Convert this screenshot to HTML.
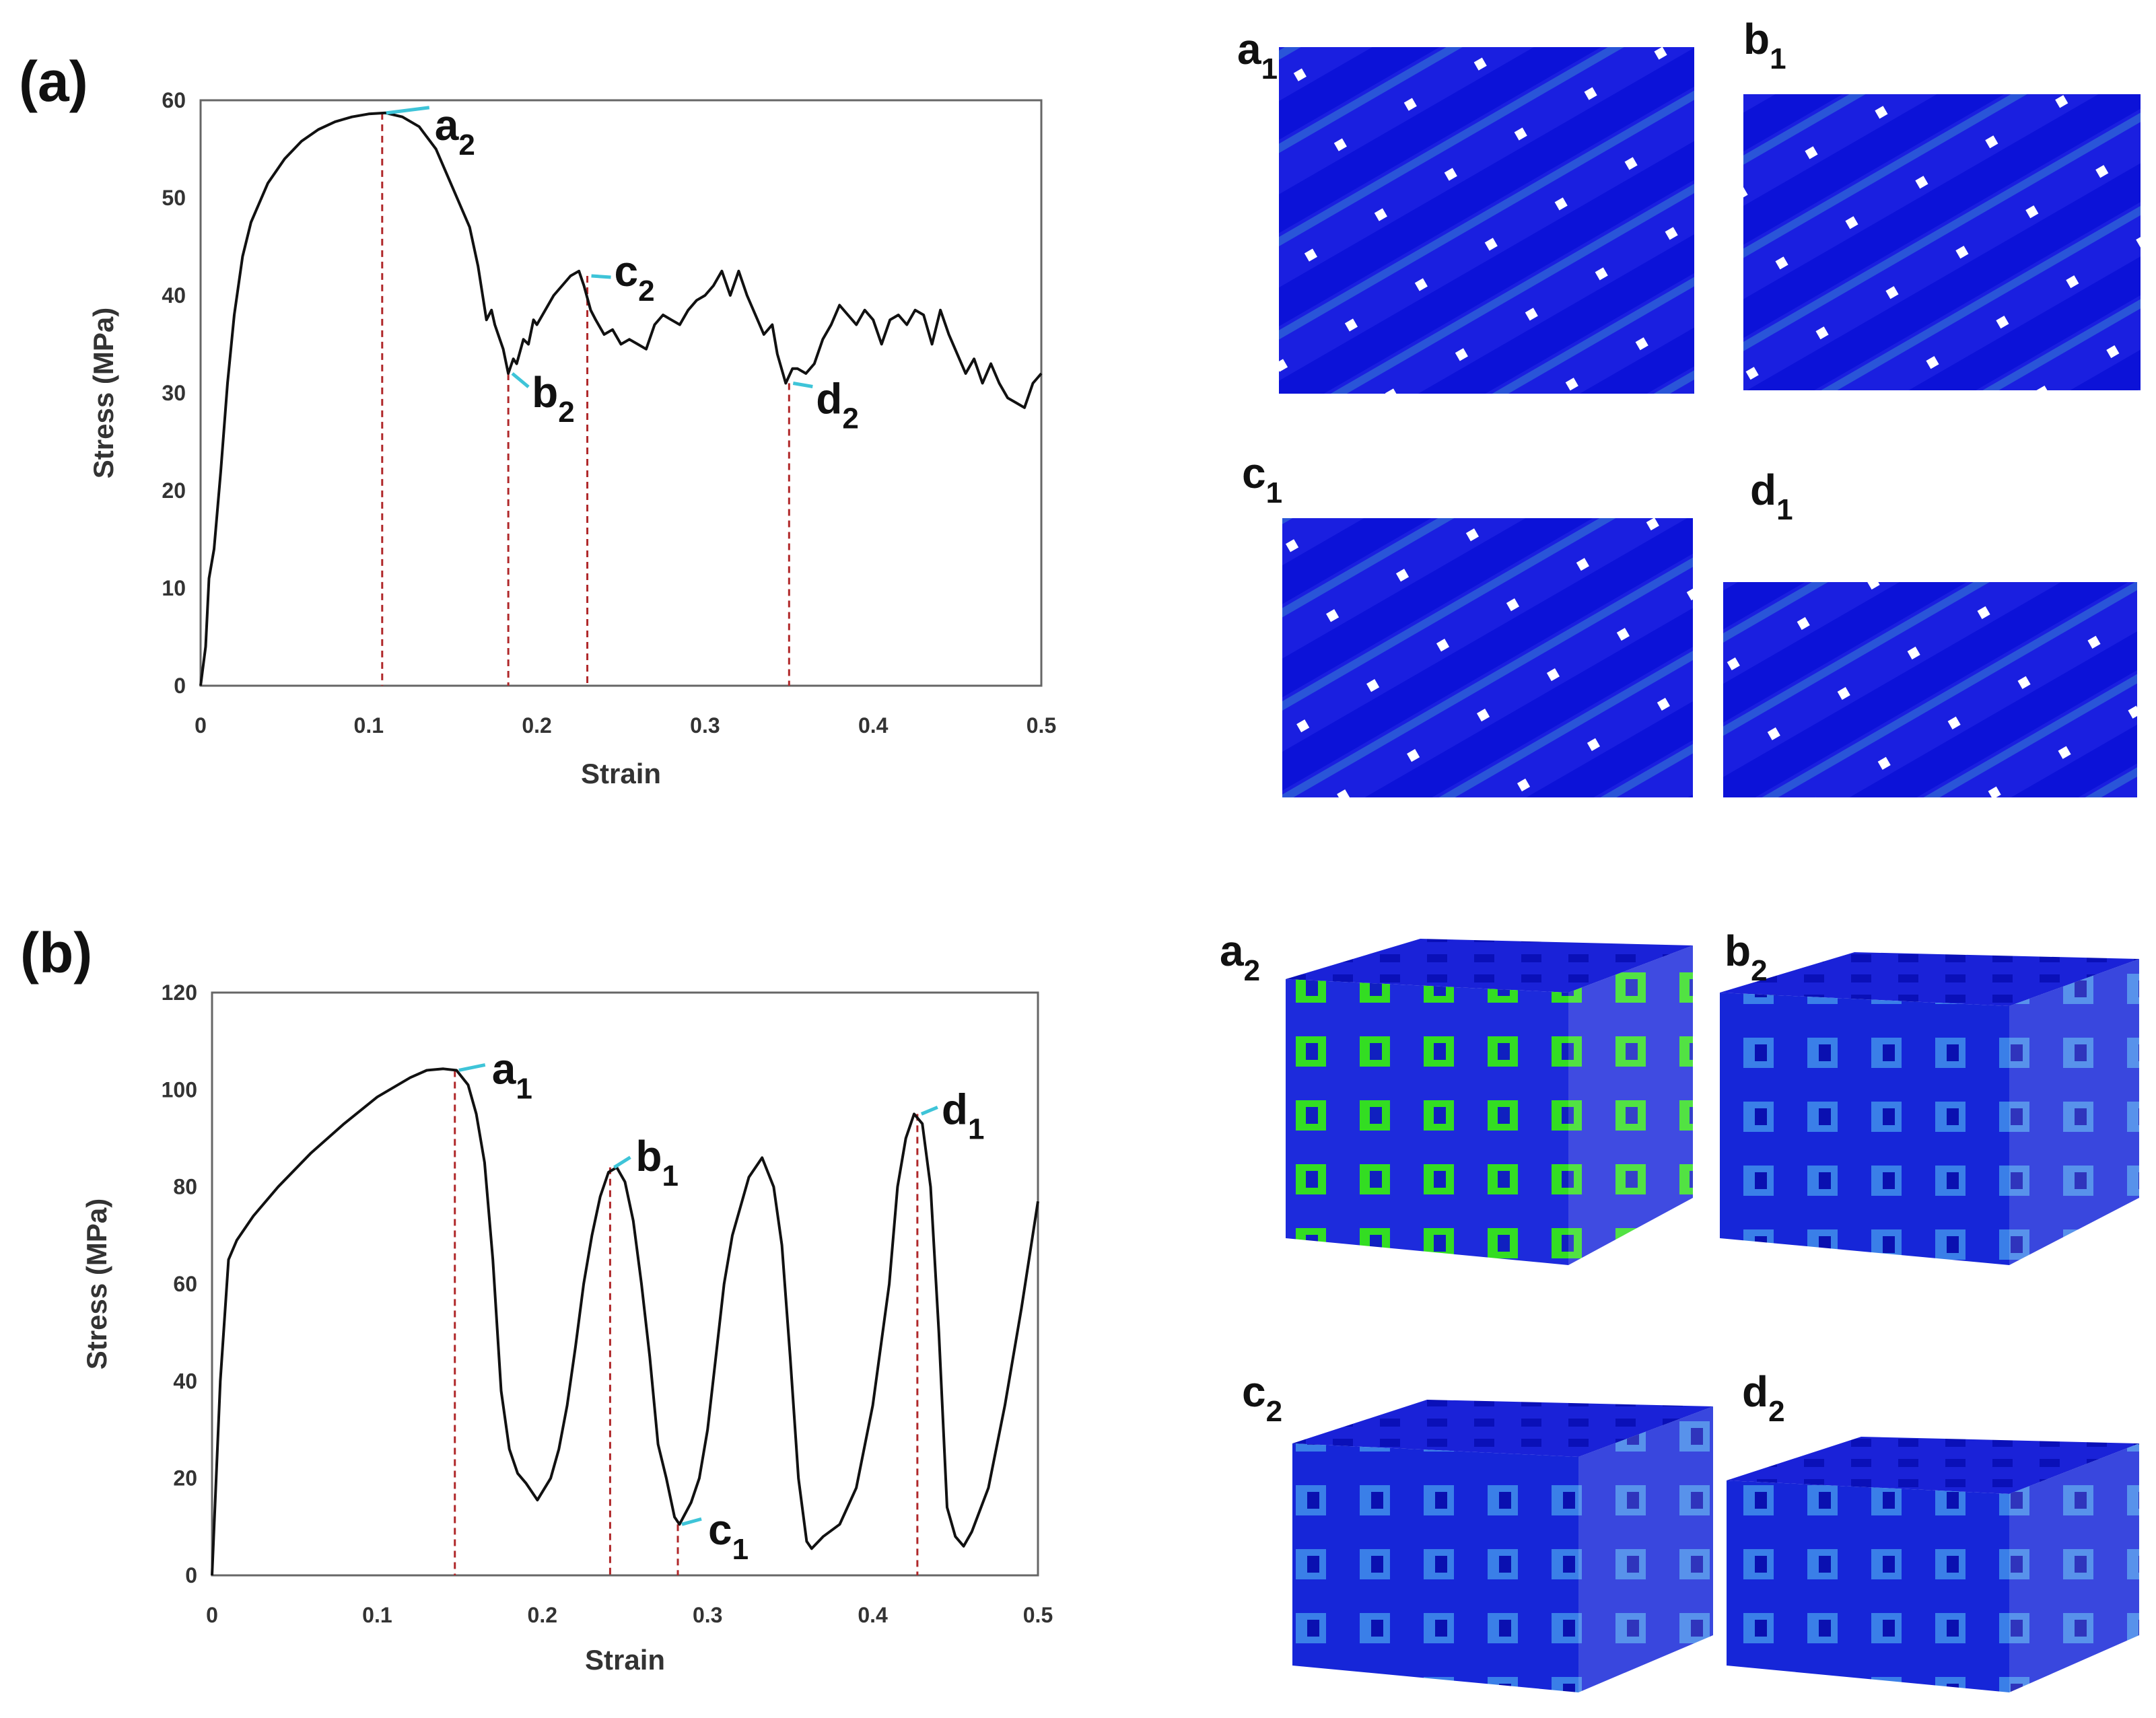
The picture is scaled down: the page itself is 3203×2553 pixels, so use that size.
<!DOCTYPE html>
<html><head><meta charset="utf-8">
<style>
html,body{margin:0;padding:0;background:#fff;}
svg{display:block;font-family:"Liberation Sans",sans-serif;}
</style></head>
<body>
<svg id="fig" width="3203" height="2553" viewBox="0 0 3203 2553" xmlns="http://www.w3.org/2000/svg">
<defs>
<pattern id="diag" patternUnits="userSpaceOnUse" width="120" height="120" patternTransform="rotate(-30)">
<rect width="120" height="120" fill="#1a1fe0"/>
<rect y="0" width="120" height="50" fill="#0c12d8"/>
<rect y="55" width="120" height="12" fill="#2a55d8"/>
<rect x="50" y="95" width="14" height="14" fill="#ffffff"/>
</pattern>
<pattern id="gridA" patternUnits="userSpaceOnUse" width="95" height="95">
<rect width="95" height="95" fill="#1d2bdc"/>
<rect x="25" y="20" width="45" height="45" fill="#33dd22"/>
<rect x="40" y="30" width="18" height="25" fill="#1020c0"/>
</pattern>
<pattern id="gridB" patternUnits="userSpaceOnUse" width="95" height="95">
<rect width="95" height="95" fill="#1626d8"/>
<rect x="25" y="22" width="45" height="45" fill="#3a7fe8"/>
<rect x="42" y="32" width="18" height="25" fill="#0a10b0"/>
</pattern>
<pattern id="topP" patternUnits="userSpaceOnUse" width="70" height="30">
<rect width="70" height="30" fill="#1a22d8"/>
<rect x="20" y="8" width="30" height="12" fill="#0a10b8"/>
</pattern>
</defs>
<g id="charts"></g>
<g id="renders"></g>
</svg>
<script>
const NS="http://www.w3.org/2000/svg";
// ---- chart (a) data ----
const strainA=[0,0.003,0.005,0.008,0.012,0.016,0.02,0.025,0.03,0.04,0.05,0.06,0.07,0.08,0.09,0.1,0.11,0.12,0.13,0.14,0.15,0.16,0.165,0.17,0.173,0.175,0.178,0.18,0.183,0.186,0.188,0.192,0.195,0.198,0.2,0.205,0.21,0.215,0.22,0.225,0.228,0.232,0.235,0.24,0.245,0.25,0.255,0.26,0.265,0.27,0.275,0.28,0.285,0.29,0.295,0.3,0.305,0.31,0.315,0.32,0.325,0.33,0.335,0.34,0.343,0.348,0.352,0.355,0.36,0.365,0.37,0.375,0.38,0.385,0.39,0.395,0.4,0.405,0.41,0.415,0.42,0.425,0.43,0.435,0.44,0.445,0.45,0.455,0.46,0.465,0.47,0.475,0.48,0.485,0.49,0.495,0.5];
const stressA=[0,4,11,14,22,31,38,44,47.5,51.5,54,55.8,57,57.8,58.3,58.6,58.7,58.3,57.3,55,51,47,43,37.5,38.5,37,35.5,34.5,32,33.5,33,35.5,35,37.5,37,38.5,40,41,42,42.5,41,38.5,37.5,36,36.5,35,35.5,35,34.5,37,38,37.5,37,38.5,39.5,40,41,42.5,40,42.5,40,38,36,37,34,31,32.5,32.5,32,33,35.5,37,39,38,37,38.5,37.5,35,37.5,38,37,38.5,38,35,38.5,36,34,32,33.5,31,33,31,29.5,29,28.5,31,32];
const markA=[0.108,0.183,0.23,0.35];
const markAv=[58.7,32,42,31];
const ticksAX=["0","0.1","0.2","0.3","0.4","0.5"];
const ticksAY=["0","10","20","30","40","50","60"];
// ---- chart (b) data ----
const strainB=[0,0.005,0.01,0.015,0.025,0.04,0.06,0.08,0.1,0.12,0.13,0.14,0.148,0.155,0.16,0.165,0.17,0.175,0.18,0.185,0.19,0.197,0.205,0.21,0.215,0.22,0.225,0.23,0.235,0.24,0.245,0.25,0.255,0.26,0.265,0.27,0.275,0.28,0.283,0.29,0.295,0.3,0.305,0.31,0.315,0.32,0.325,0.333,0.34,0.345,0.35,0.355,0.36,0.363,0.37,0.38,0.39,0.4,0.41,0.415,0.42,0.425,0.43,0.435,0.44,0.445,0.45,0.455,0.46,0.47,0.48,0.49,0.5];
const stressB=[0,40,65,69,74,80,87,93,98.5,102.5,104,104.3,104,101,95,85,65,38,26,21,19,15.5,20,26,35,47,60,70,78,83,84,81,73,60,45,27,20,12,10.5,15,20,30,45,60,70,76,82,86,80,68,45,20,7,5.5,8,10.5,18,35,60,80,90,95,93,80,50,14,8,6,9,18,35,55,77];
const markB=[0.147,0.241,0.282,0.427];
const markBv=[104,84,10.5,95];
const ticksBX=["0","0.1","0.2","0.3","0.4","0.5"];
const ticksBY=["0","20","40","60","80","100","120"];

function el(tag,attrs,parent){const e=document.createElementNS(NS,tag);for(const k in attrs)e.setAttribute(k,attrs[k]);parent.appendChild(e);return e;}
const charts=document.getElementById('charts');

function chart(cfg){
  const g=el('g',{},charts);
  
  
  const X=v=>cfg.x0+(v/0.5)*(cfg.x1-cfg.x0);
  const Y=v=>cfg.y0-(v/cfg.ymax)*(cfg.y0-cfg.y1);
  const frame=el('rect',{x:cfg.x0,y:cfg.y1,width:cfg.x1-cfg.x0,height:cfg.y0-cfg.y1,fill:'none',stroke:'#666',"stroke-width":3},g);
  
  
  cfg.tx.forEach(t=>{const tt=el('text',{x:X(+t),y:cfg.y0+70,"text-anchor":"middle","font-size":32,"font-weight":"bold",fill:'#333'},g);tt.textContent=t;
    
    });
  cfg.ty.forEach(t=>{const tt=el('text',{x:cfg.x0-22,y:Y(+t)+11,"text-anchor":"end","font-size":32,"font-weight":"bold",fill:'#333'},g);tt.textContent=t;
    
    });
  const xt=el('text',{x:(cfg.x0+cfg.x1)/2,y:cfg.y0+cfg.xtOff,"text-anchor":"middle","font-size":42,"font-weight":"bold",fill:'#333'},g);xt.textContent='Strain';
  
  
  const cy=(cfg.y0+cfg.y1)/2;
  const yt=el('text',{x:cfg.ytX,y:cy,"text-anchor":"middle","font-size":42,"font-weight":"bold",fill:'#333',transform:`rotate(-90 ${cfg.ytX} ${cy})`},g);yt.textContent='Stress (MPa)';
  
  
  cfg.mx.forEach((m,i)=>{const l=el('line',{x1:X(m),x2:X(m),y1:Y(cfg.mv[i]),y2:cfg.y0,stroke:'#b0282a',"stroke-width":3,"stroke-dasharray":"10 7"},g);
    
    });
  const d=cfg.xs.map((v,i)=>(i?'L':'M')+X(v).toFixed(1)+' '+Y(cfg.ys[i]).toFixed(1)).join(' ');
  const p=el('path',{d:d,fill:'none',stroke:'#111',"stroke-width":4,"stroke-linejoin":"round"},g);
  
  
  cfg.labels.forEach((lb,i)=>{const px=X(cfg.mx[i]),py=Y(cfg.mv[i]);
    const ln=el('line',{x1:px+6,y1:py+lb.ly1,x2:px+lb.lx,y2:py+lb.ly,stroke:'#3ec4d8',"stroke-width":5},g);
    
    
    const t=el('text',{x:px+lb.dx,y:py+lb.dy,"font-size":64,"font-weight":"bold",fill:'#111'},g);
    t.innerHTML=lb.c+'<tspan font-size="44" dy="22">'+lb.s+'</tspan>';
    
    });
  const pl=el('text',{x:cfg.plX,y:cfg.plY,"font-size":84,"font-weight":"bold",fill:'#111'},g);pl.textContent=cfg.panel;
  
  
}
chart({name:'chart-a',x0:298,x1:1547,y0:1019,y1:149,ymax:60,xs:strainA,ys:stressA,mx:markA,mv:markAv,tx:ticksAX,ty:ticksAY,
 xtOff:145,ytX:168,panel:'(a)',plX:28,plY:150,
 labels:[{c:'a',s:'2',dx:78,dy:40,lx:70,ly:-8,ly1:0},{c:'b',s:'2',dx:35,dy:50,lx:30,ly:20,ly1:0},{c:'c',s:'2',dx:40,dy:15,lx:35,ly:2,ly1:0},{c:'d',s:'2',dx:40,dy:45,lx:35,ly:5,ly1:0}]});
chart({name:'chart-b',x0:315,x1:1542,y0:2341,y1:1475,ymax:120,xs:strainB,ys:stressB,mx:markB,mv:markBv,tx:ticksBX,ty:ticksBY,
 xtOff:140,ytX:158,panel:'(b)',plX:30,plY:1445,
 labels:[{c:'a',s:'1',dx:55,dy:20,lx:45,ly:-8,ly1:0},{c:'b',s:'1',dx:38,dy:5,lx:30,ly:-15,ly1:0},{c:'c',s:'1',dx:45,dy:30,lx:35,ly:-8,ly1:0},{c:'d',s:'1',dx:36,dy:15,lx:30,ly:-10,ly1:0}]});

// ---- simulation renders ----
const R=document.getElementById('renders');
function label(c,s,x,y){const t=el('text',{x:x,y:y,"font-size":64,"font-weight":"bold",fill:'#111'},R);
  t.innerHTML=c+'<tspan font-size="44" dy="22">'+s+'</tspan>';
  
  }
function lattice(name,x,y,w,h){const r=el('rect',{x:x,y:y,width:w,height:h,fill:'url(#diag)'},R);
  
  }
function cube(name,fx0,fx1,sx,topBack,topFront,bot,botSide,fill){const g=el('g',{},R);
  
  
  el('polygon',{points:`${fx0},${topFront} ${fx0+200},${topBack} ${sx},${topBack+10} ${fx1},${topFront+20}`,fill:'url(#topP)'},g);
  el('polygon',{points:`${fx0},${topFront} ${fx1},${topFront+20} ${fx1},${bot} ${fx0},${bot-40}`,fill:fill},g);
  el('polygon',{points:`${fx1},${topFront+20} ${sx},${topBack+10} ${sx},${botSide} ${fx1},${bot}`,fill:fill,opacity:0.85},g);}
lattice('render-a1',1900,70,617,515);
lattice('render-b1',2590,140,590,440);
lattice('render-c1',1905,770,610,415);
lattice('render-d1',2560,865,615,320);
label('a','1',1838,95);label('b','1',2590,80);label('c','1',1845,725);label('d','1',2600,750);
cube('render-a2',1910,2330,2515,1395,1455,1880,1780,'url(#gridA)');
cube('render-b2',2555,2985,3178,1415,1475,1880,1780,'url(#gridB)');
cube('render-c2',1920,2345,2545,2080,2145,2515,2430,'url(#gridB)');
cube('render-d2',2565,2985,3178,2135,2200,2515,2430,'url(#gridB)');
label('a','2',1812,1435);label('b','2',2562,1435);label('c','2',1845,2090);label('d','2',2588,2090);
</script>
</body></html>
